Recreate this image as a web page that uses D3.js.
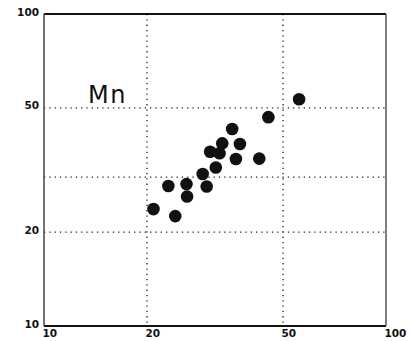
<!DOCTYPE html>
<html><head><meta charset="utf-8">
<script src="https://cdn.jsdelivr.net/npm/d3@7"></script>
<style>body{margin:0;background:#fff}svg{display:block}</style>
</head><body>
<svg id="c" width="413" height="341"></svg>
<script>
const xValues = [55.7, 45.3, 35.5, 33.2, 37.4, 30.6, 32.6, 36.4, 42.6, 31.8, 29.1, 29.9, 23.1, 26.1, 26.2, 20.9, 24.2];
const yValues = [53.3, 46.7, 42.8, 38.5, 38.3, 36.2, 35.8, 34.3, 34.4, 32.2, 30.7, 28.0, 28.1, 28.5, 26.0, 23.7, 22.5];
const xTicks = [10, 20, 50, 100];
const yTicks = [10, 20, 50, 100];
const xGrid = [20, 50];
const yGrid = [20, 30, 50];
const label = "Mn";

const svg = d3.select("#c");
const L = 44, R = 386, T = 14, B = 326;
const x = d3.scaleLog().domain([10, 100]).range([L, R]);
const y = d3.scaleLog().domain([10, 100]).range([B, T]);

// grid
svg.selectAll(".vg").data(xGrid).join("line")
  .attr("x1", d => x(d)).attr("x2", d => x(d)).attr("y1", T).attr("y2", B)
  .attr("stroke", "#222").attr("stroke-width", 1.3).attr("stroke-dasharray", "1.3,4");
svg.selectAll(".hg").data(yGrid).join("line")
  .attr("x1", L).attr("x2", R).attr("y1", d => y(d)).attr("y2", d => y(d))
  .attr("stroke", "#222").attr("stroke-width", 1.3).attr("stroke-dasharray", "1.3,4");

// frame
svg.append("line").attr("x1", L).attr("x2", R).attr("y1", T).attr("y2", T).attr("stroke", "#111").attr("stroke-width", 2);
svg.append("line").attr("x1", L).attr("x2", R).attr("y1", B).attr("y2", B).attr("stroke", "#111").attr("stroke-width", 2);
svg.append("line").attr("x1", L).attr("x2", L).attr("y1", T).attr("y2", B).attr("stroke", "#444").attr("stroke-width", 1.5);
svg.append("line").attr("x1", R).attr("x2", R).attr("y1", T).attr("y2", B).attr("stroke", "#555").attr("stroke-width", 1.5);

// axes (labels only)
const yAxis = d3.axisLeft(y).tickValues(yTicks).tickFormat(d3.format("d")).tickSize(0).tickPadding(5);
const gy = svg.append("g").attr("transform", `translate(${L},0)`).call(yAxis);
gy.select(".domain").remove();
gy.selectAll("text").attr("dy", "0.1em").attr("font-family", "DejaVu Sans, sans-serif")
  .attr("font-size", 10.5).attr("font-weight", "bold").attr("fill", "#111");

const xAxis = d3.axisBottom(x).tickValues(xTicks).tickFormat(d3.format("d")).tickSize(0).tickPadding(4);
const gx = svg.append("g").attr("transform", `translate(0,${B})`).call(xAxis);
gx.select(".domain").remove();
gx.selectAll("text").attr("text-anchor", "start").attr("dx", "-2")
  .attr("font-family", "DejaVu Sans, sans-serif")
  .attr("font-size", 10.5).attr("font-weight", "bold").attr("fill", "#111");

// points
svg.selectAll(".pt").data(xValues.map((v, i) => [v, yValues[i]])).join("circle")
  .attr("cx", d => x(d[0])).attr("cy", d => y(d[1])).attr("r", 6.3).attr("fill", "#111");

// label
svg.append("text").attr("x", 88).attr("y", 103).text(label)
  .attr("font-family", "DejaVu Sans, sans-serif").attr("font-size", 24)
  .attr("letter-spacing", 1.5).attr("fill", "#111");
</script>
</body></html>
